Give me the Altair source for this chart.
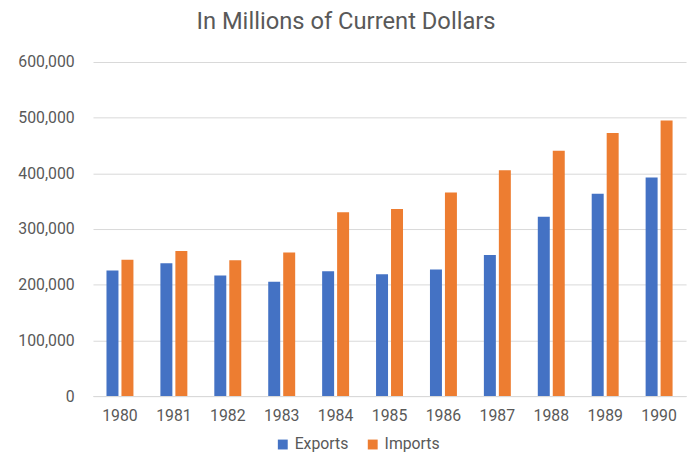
import altair as alt
import pandas as pd

years = ["1980", "1981", "1982", "1983", "1984", "1985", "1986", "1987", "1988", "1989", "1990"]
exports = [225600, 238500, 216700, 205500, 224000, 218600, 227500, 253500, 322000, 363600, 392500]
imports = [245000, 260600, 243900, 258000, 330000, 336000, 365500, 405500, 440500, 472500, 495000]
series = ["Exports", "Imports"]
colors = ["#4472C4", "#ED7D31"]

rows = []
for i, y in enumerate(years):
    rows.append({"Year": y, "Series": "Exports", "Value": exports[i]})
    rows.append({"Year": y, "Series": "Imports", "Value": imports[i]})
df = pd.DataFrame(rows)

gray = "#595959"
font = "Roboto"

chart = alt.Chart(df).mark_bar().encode(
    x=alt.X("Year:N", sort=years, title=None,
            scale=alt.Scale(paddingInner=0.5, paddingOuter=0.25),
            axis=alt.Axis(labelAngle=0, ticks=False, domainColor="#d9d9d9",
                          labelFontSize=16, labelColor=gray, labelFont=font,
                          labelPadding=12)),
    xOffset=alt.XOffset("Series:N", sort=series,
                        scale=alt.Scale(paddingInner=0.2)),
    y=alt.Y("Value:Q", title=None,
            scale=alt.Scale(domain=[0, 600000]),
            axis=alt.Axis(values=[0, 100000, 200000, 300000, 400000, 500000, 600000],
                          format=",d", domain=False, ticks=False,
                          gridColor="#d9d9d9", labelFontSize=16, labelColor=gray,
                          labelFont=font, labelPadding=19)),
    color=alt.Color("Series:N", sort=series,
                    scale=alt.Scale(domain=series, range=colors),
                    legend=alt.Legend(title=None, orient="none", direction="horizontal",
                                      legendX=184, legendY=379, symbolType="square",
                                      symbolSize=100, labelFontSize=16, labelColor=gray,
                                      labelFont=font, columnPadding=16,
                                      symbolStrokeWidth=0)),
).properties(
    width=600, height=338,
    title=alt.TitleParams("In Millions of Current Dollars", fontSize=24, color=gray,
                          font=font, fontWeight="normal", anchor="middle",
                          dx=-44, offset=20),
    autosize=alt.AutoSizeParams(type="none"),
    padding={"left": 86, "top": 52, "right": 5, "bottom": 60},
).configure_view(stroke=None)

chart.save("out.html", embed_options={"renderer": "svg", "actions": False})
